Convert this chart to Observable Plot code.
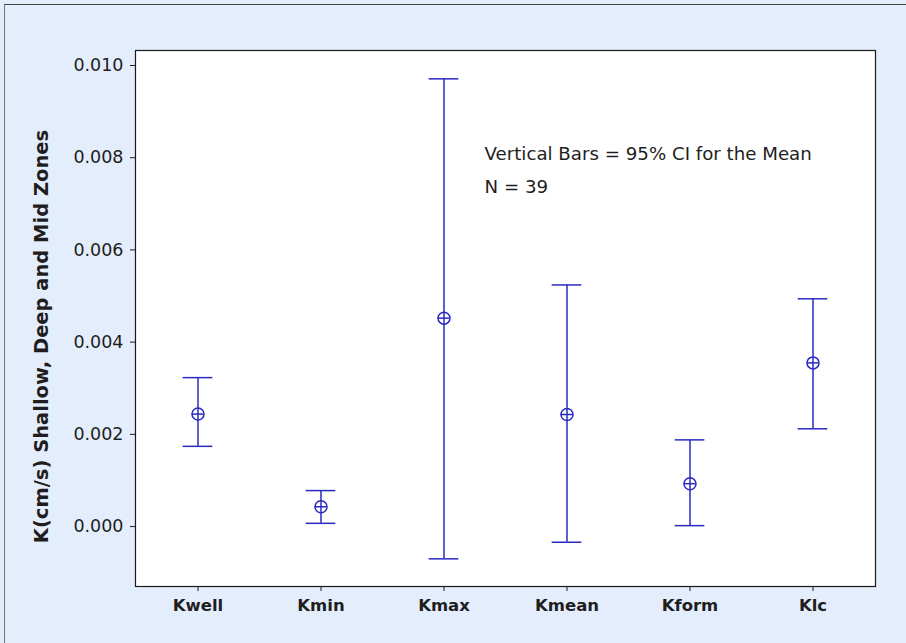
<!DOCTYPE html>
<html>
<head>
<meta charset="utf-8">
<script src="https://cdn.jsdelivr.net/npm/d3@7"></script>
<script src="https://cdn.jsdelivr.net/npm/@observablehq/plot@0.6"></script>
<style>
  html, body { margin: 0; padding: 0; background: #e4edfb; }
  #wrap { position: relative; width: 906px; height: 643px; background: #e4edfb; overflow: hidden; }
  #edge { position: absolute; left: 4px; top: 4px; right: 0; bottom: 0;
          border-top: 1px solid #444; border-left: 1px solid #777; pointer-events: none; }
  #wrap svg { position: absolute; left: 0; top: 0; }
</style>
</head>
<body>
<div id="wrap"><div id="edge"></div></div>
<script>
// Interval plot: 95% confidence interval for the mean of each K estimate
const categories = ["Kwell", "Kmin", "Kmax", "Kmean", "Kform", "Klc"];
const means = [0.00244, 0.00043, 0.00452, 0.00243, 0.00093, 0.00355];
const lower = [0.00174, 0.00007, -0.00070, -0.00034, 0.00002, 0.00212];
const upper = [0.00323, 0.00078, 0.00971, 0.00524, 0.00188, 0.00494];
const yTicks = [0.000, 0.002, 0.004, 0.006, 0.008, 0.010];
const yTitle = "K(cm/s) Shallow, Deep and Mid Zones";
const note = "Vertical Bars = 95% CI for the Mean\nN = 39";

const rows = categories.map((c, i) => ({cat: c, mean: means[i], lo: lower[i], hi: upper[i]}));

const blue = "#2a2ac2";
const step = 740 / categories.length;
const capInset = (step - 30) / 2;
const crossInset = (step - 12) / 2;

const chart = Plot.plot({
  width: 906,
  height: 643,
  marginLeft: 135,
  marginRight: 31,
  marginTop: 50,
  marginBottom: 57,
  style: {background: "transparent", fontFamily: "DejaVu Sans, sans-serif", fontSize: "16px", color: "#1e1e1e"},
  x: {type: "band", domain: categories, padding: 0},
  y: {domain: [-0.0013, 0.010325]},
  marks: [
    Plot.frame({fill: "white", stroke: "#1a1a1a", strokeWidth: 1.2}),
    Plot.ruleX(rows, {x: "cat", y1: "lo", y2: "hi", stroke: blue, strokeWidth: 1.5}),
    Plot.tickY(rows, {x: "cat", y: "hi", stroke: blue, strokeWidth: 1.5, insetLeft: capInset, insetRight: capInset}),
    Plot.tickY(rows, {x: "cat", y: "lo", stroke: blue, strokeWidth: 1.5, insetLeft: capInset, insetRight: capInset}),
    Plot.tickY(rows, {x: "cat", y: "mean", stroke: blue, strokeWidth: 1.5, insetLeft: crossInset, insetRight: crossInset}),
    Plot.dot(rows, {x: "cat", y: "mean", r: 6, stroke: blue, strokeWidth: 1.5, fill: "none"}),
    Plot.axisY({ticks: yTicks, tickFormat: d3.format(".3f"), tickSize: 5, tickPadding: 7, label: null, fontSize: 17.5}),
    Plot.axisX({tickSize: 5, tickPadding: 8, label: null, fontSize: 16.5, fontWeight: "bold"}),
    Plot.text([yTitle], {frameAnchor: "left", dx: -94, dy: 18, rotate: -90, textAnchor: "middle", lineAnchor: "middle", fontWeight: "bold", fontSize: 19.5, text: d => d}),
    Plot.text([note], {frameAnchor: "top-left", dx: 349, dy: 86, textAnchor: "start", lineAnchor: "top", lineHeight: 1.8, fontSize: 18.2, text: d => d})
  ]
});

document.getElementById("wrap").appendChild(chart);
</script>
</body>
</html>
